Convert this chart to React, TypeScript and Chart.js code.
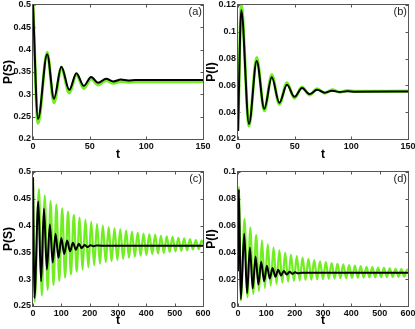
import React, { useEffect, useRef } from 'react';
import { Chart, registerables } from 'chart.js';
Chart.register(...registerables);

// ---------- Panel (a): P(S), short time ----------
const tA = [0, 4.4, 12.5, 18.5, 25, 32, 38.3, 44.8, 51.3, 57.5, 64.5, 71, 77.5, 84, 90.5, 97, 150];
const sBlackA = [0.5, 0.245, 0.39, 0.29, 0.362, 0.31, 0.347, 0.319, 0.339, 0.326, 0.335, 0.329, 0.333, 0.331, 0.332, 0.332, 0.332];
const sGreenA = [0.5, 0.235, 0.394, 0.281, 0.36, 0.303, 0.344, 0.313, 0.335, 0.321, 0.331, 0.325, 0.329, 0.327, 0.328, 0.328, 0.328];

// ---------- Panel (b): P(I), short time ----------
const tB = [0, 2.9, 9.7, 16.5, 23.2, 29.8, 36.5, 43.2, 49.8, 56.5, 63.2, 69.8, 76.5, 83.2, 89.8, 96.5, 103, 150];
const iBlackB = [0.026, 0.116, 0.0312, 0.0782, 0.0425, 0.066, 0.047, 0.0605, 0.0515, 0.058, 0.0535, 0.0568, 0.0545, 0.0561, 0.055, 0.0557, 0.0553, 0.0554];
const iGreenB = [0.026, 0.12, 0.0297, 0.0808, 0.041, 0.068, 0.046, 0.062, 0.0505, 0.0588, 0.0528, 0.0575, 0.0542, 0.0568, 0.0549, 0.0562, 0.0556, 0.0558];

// ---------- Panel (c): P(S), long time ----------
const tBlackC = [0, 5, 18.7, 28.5, 38.6, 49, 59.6, 69.5, 79.5, 90, 100, 110, 120.5, 131, 141, 151.5, 161.5, 172, 182, 192.5, 203, 213, 223.5, 240, 600];
const sBlackC = [0.49, 0.265, 0.445, 0.296, 0.432, 0.318, 0.402, 0.331, 0.385, 0.34, 0.377, 0.347, 0.372, 0.352, 0.368, 0.355, 0.366, 0.358, 0.364, 0.36, 0.3635, 0.3615, 0.363, 0.3625, 0.3625];
const tGreenC = [0, 6, 21, 31.25, 41.5, 51.75, 62, 72.25, 82.5, 92.75, 103, 113.25, 123.5, 133.75, 144, 154.25, 164.5, 174.75, 185, 195.25, 205.5, 215.75, 226, 236.25, 246.5, 256.75, 267, 277.25, 287.5, 297.75, 308, 318.25, 328.5, 338.75, 349, 359.25, 369.5, 379.75, 390, 400.25, 410.5, 420.75, 431, 441.25, 451.5, 461.75, 472, 482.25, 492.5, 502.75, 513, 523.25, 533.5, 543.75, 554, 564.25, 574.5, 584.75, 595, 600];
const sGreenC = [0.49, 0.258,
  0.468, 0.27, 0.456, 0.28, 0.446, 0.289, 0.439, 0.297, 0.432, 0.303, 0.426, 0.309, 0.42, 0.314,
  0.415, 0.318, 0.411, 0.322, 0.407, 0.326, 0.403, 0.329, 0.4, 0.332, 0.397, 0.334, 0.395, 0.336,
  0.393, 0.338, 0.391, 0.34, 0.389, 0.342, 0.387, 0.344, 0.385, 0.345, 0.384, 0.347, 0.383, 0.348,
  0.381, 0.349, 0.38, 0.351, 0.379, 0.352, 0.377, 0.353, 0.376, 0.354, 0.375, 0.355, 0.373, 0.356,
  0.372, 0.366];

// ---------- Panel (d): P(I), long time ----------
const tBlackD = [0, 3, 10, 22, 32, 42, 52, 62, 72, 82, 92, 102, 112, 122, 132, 142, 152, 162, 172, 182, 192, 202, 212, 225, 600];
const iBlackD = [0.026, 0.087, 0.005, 0.054, 0.0095, 0.0435, 0.013, 0.037, 0.016, 0.033, 0.0185, 0.03, 0.0205, 0.0283, 0.0218, 0.027, 0.0228, 0.0262, 0.0235, 0.0256, 0.024, 0.0252, 0.0244, 0.0248, 0.0248];
const tGreenD = [0, 3, 10, 23, 33.25, 43.5, 53.75, 64, 74.25, 84.5, 94.75, 105, 115.25, 125.5, 135.75, 146, 156.25, 166.5, 176.75, 187, 197.25, 207.5, 217.75, 228, 238.25, 248.5, 258.75, 269, 279.25, 289.5, 299.75, 310, 320.25, 330.5, 340.75, 351, 361.25, 371.5, 381.75, 392, 402.25, 412.5, 422.75, 433, 443.25, 453.5, 463.75, 474, 484.25, 494.5, 504.75, 515, 525.25, 535.5, 545.75, 556, 566.25, 576.5, 586.75, 597, 600];
const iGreenD = [0.026, 0.089, 0.004,
  0.065, 0.0065, 0.0585, 0.009, 0.053, 0.0112, 0.049, 0.0135, 0.046, 0.0152, 0.0435, 0.0165,
  0.0415, 0.0175, 0.0398, 0.0182, 0.0384, 0.0187, 0.0372, 0.0191, 0.0361, 0.0194, 0.0351, 0.0197,
  0.0342, 0.0199, 0.0334, 0.0201, 0.0327, 0.0203, 0.0321, 0.0205, 0.0315, 0.0207, 0.031, 0.0208,
  0.0305, 0.021, 0.0301, 0.0211, 0.0297, 0.0212, 0.0293, 0.0213, 0.029, 0.0214, 0.0287, 0.0215,
  0.0284, 0.0216, 0.0281, 0.0217, 0.0278, 0.0218, 0.0275, 0.0219, 0.0272, 0.0268];

// ---------- Tick labels ----------
const xTicksShort = [0, 50, 100, 150];
const xTicksLong = [0, 100, 200, 300, 400, 500, 600];
const yTicksA = [0.2, 0.25, 0.3, 0.35, 0.4, 0.45, 0.5];
const yTicksB = [0.02, 0.04, 0.06, 0.08, 0.1, 0.12];
const yTicksC = [0.25, 0.3, 0.35, 0.4, 0.45, 0.5];
const yTicksD = [0, 0.02, 0.04, 0.06, 0.08, 0.1];

const GREEN = 'rgb(112, 238, 34)';
const BLACK = '#000000';
const FAMILY = '"Liberation Sans", Arial, Helvetica, sans-serif';

const zip = (t: number[], v: number[]) => t.map((x, i) => ({ x, y: v[i] }));

type PanelProps = {
  left: number; top: number; width: number; height: number;
  yAxisW: number; xAxisH: number; padTop: number; padRight: number;
  yTitlePad: number; xTitlePad: number; greenW: number;
  xMax: number; xTicks: number[]; yMin: number; yMax: number; yTicks: number[];
  yTitle: string; tag: string;
  black: { x: number; y: number }[]; green: { x: number; y: number }[];
};

const framePlugin = {
  id: 'frame',
  beforeDatasetsDraw(chart: any) {
    const { ctx, chartArea, scales } = chart;
    const { left, right, top, bottom } = chartArea;
    ctx.save();
    ctx.strokeStyle = '#555';
    ctx.lineWidth = 1;
    const L = Math.round(left) - 0.5, R = Math.round(right) + 0.5;
    const T = Math.round(top) - 0.5, B = Math.round(bottom) + 0.5;
    ctx.strokeRect(L, T, R - L, B - T);
    ctx.beginPath();
    const tl = 3;
    scales.y.ticks.forEach((tk: any) => {
      const py = Math.round(scales.y.getPixelForValue(tk.value)) + 0.5;
      ctx.moveTo(L, py); ctx.lineTo(L + tl, py);
      ctx.moveTo(R, py); ctx.lineTo(R - tl, py);
    });
    scales.x.ticks.forEach((tk: any) => {
      const px = Math.round(scales.x.getPixelForValue(tk.value)) + 0.5;
      ctx.moveTo(px, B); ctx.lineTo(px, B - tl);
      ctx.moveTo(px, T); ctx.lineTo(px, T + tl);
    });
    ctx.stroke();
    ctx.restore();
  },
  afterDraw(chart: any) {
    const tag = chart.options.plugins.frame?.tag;
    if (!tag) return;
    const { ctx, chartArea } = chart;
    ctx.save();
    ctx.font = `11px ${FAMILY}`;
    ctx.fillStyle = '#222';
    ctx.textAlign = 'right';
    ctx.textBaseline = 'middle';
    ctx.fillText(tag, chartArea.right - 1, chartArea.top + 7);
    ctx.restore();
  },
};

function Panel(p: PanelProps) {
  const ref = useRef<HTMLCanvasElement | null>(null);
  useEffect(() => {
    if (!ref.current) return;
    const tickFont = { family: FAMILY, size: 9, weight: 'bold' as const };
    const chart = new Chart(ref.current, {
      type: 'line',
      data: {
        datasets: [
          { data: p.black, borderColor: BLACK, borderWidth: 2, pointRadius: 0, cubicInterpolationMode: 'monotone', fill: false },
          { data: p.green, borderColor: GREEN, borderWidth: p.greenW, pointRadius: 0, cubicInterpolationMode: 'monotone', fill: false },
        ],
      },
      options: {
        responsive: false,
        animation: false,
        layout: { padding: { top: p.padTop, right: p.padRight, left: 0, bottom: 0 } },
        plugins: { legend: { display: false }, tooltip: { enabled: false }, frame: { tag: p.tag } } as any,
        scales: {
          x: {
            type: 'linear', min: 0, max: p.xMax,
            grid: { display: false, drawTicks: false, tickLength: 0 }, border: { display: false },
            afterBuildTicks: (s: any) => { s.ticks = p.xTicks.map((v) => ({ value: v })); },
            ticks: { font: tickFont, color: '#111', padding: 2, maxRotation: 0, autoSkip: false, callback: (v: any) => String(v) },
            title: { display: true, text: 't', font: { family: FAMILY, size: 12, weight: 'bold' }, color: '#000', padding: { top: 0, bottom: p.xTitlePad } },
            afterFit: (s: any) => { s.height = p.xAxisH; s.paddingLeft = 0; s.paddingRight = 0; },
          },
          y: {
            type: 'linear', min: p.yMin, max: p.yMax,
            grid: { display: false, drawTicks: false, tickLength: 0 }, border: { display: false },
            afterBuildTicks: (s: any) => { s.ticks = p.yTicks.map((v) => ({ value: v })); },
            ticks: { font: tickFont, color: '#111', padding: 2, autoSkip: false, callback: (v: any) => String(v) },
            title: { display: true, text: p.yTitle, font: { family: FAMILY, size: 12, weight: 'bold' }, color: '#000', padding: { top: p.yTitlePad, bottom: 0 } },
            afterFit: (s: any) => { s.width = p.yAxisW; s.paddingTop = 0; s.paddingBottom = 0; },
          },
        },
      } as any,
      plugins: [framePlugin],
    });
    return () => chart.destroy();
  }, []);
  return (
    <canvas
      ref={ref}
      width={p.width}
      height={p.height}
      style={{ position: 'absolute', left: p.left, top: p.top, width: p.width, height: p.height }}
    />
  );
}

export default function App() {
  return (
    <div style={{ position: 'fixed', left: 0, top: 0, width: 415, height: 329, background: '#fff', overflow: 'hidden' }}>
      <Panel left={0} top={0} width={213} height={165} yAxisW={33} xAxisH={26} padTop={5} padRight={10}
        yTitlePad={1.8} xTitlePad={2.8} greenW={3} xMax={150} xTicks={xTicksShort} yMin={0.2} yMax={0.5} yTicks={yTicksA}
        yTitle="P(S)" tag="(a)" black={zip(tA, sBlackA)} green={zip(tA, sGreenA)} />
      <Panel left={204} top={0} width={211} height={165} yAxisW={34} xAxisH={26} padTop={5} padRight={7}
        yTitlePad={0.4} xTitlePad={2.8} greenW={3} xMax={150} xTicks={xTicksShort} yMin={0.02} yMax={0.12} yTicks={yTicksB}
        yTitle="P(I)" tag="(b)" black={zip(tB, iBlackB)} green={zip(tB, iGreenB)} />
      <Panel left={0} top={165} width={213} height={164} yAxisW={33} xAxisH={23} padTop={7} padRight={10}
        yTitlePad={1.8} xTitlePad={0.8} greenW={2.2} xMax={600} xTicks={xTicksLong} yMin={0.25} yMax={0.5} yTicks={yTicksC}
        yTitle="P(S)" tag="(c)" black={zip(tBlackC, sBlackC)} green={zip(tGreenC, sGreenC)} />
      <Panel left={204} top={165} width={211} height={164} yAxisW={34} xAxisH={23} padTop={7} padRight={7}
        yTitlePad={0.4} xTitlePad={0.8} greenW={2.2} xMax={600} xTicks={xTicksLong} yMin={0} yMax={0.1} yTicks={yTicksD}
        yTitle="P(I)" tag="(d)" black={zip(tBlackD, iBlackD)} green={zip(tGreenD, iGreenD)} />
    </div>
  );
}
